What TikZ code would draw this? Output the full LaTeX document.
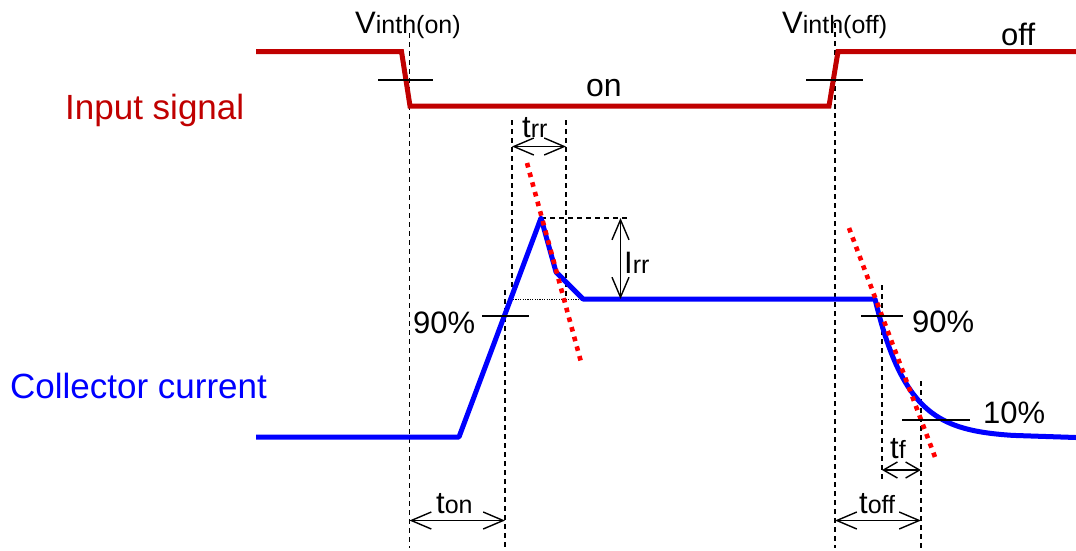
\documentclass[tikz,border=0pt]{standalone}
\usepackage{fontspec}
\setmainfont{Liberation Sans}
\usetikzlibrary{arrows.meta}
\definecolor{sigred}{HTML}{C00000}
\definecolor{curblue}{HTML}{0000FF}
\definecolor{tanred}{HTML}{FF0000}
\newcommand{\bigf}{\fontsize{31}{37}\selectfont}
\newcommand{\subf}{\fontsize{25}{30}\selectfont}
\tikzset{
  guide/.style={draw=black, line width=1.3pt, dash pattern=on 5pt off 4pt},
  dotguide/.style={draw=black, line width=1pt, dash pattern=on 1.2pt off 1.2pt},
  tick/.style={draw=black, line width=1.8pt},
  sigline/.style={draw=sigred, line width=5pt, line join=miter},
  curline/.style={draw=curblue, line width=5pt, line join=round},
  tangent/.style={draw=tanred, line width=4.6pt, dash pattern=on 4.6pt off 5.4pt},
  dimarrow/.style={draw=black, line width=1.4pt, {Straight Barb[length=20pt,width=17pt,line width=1.4pt]}-{Straight Barb[length=20pt,width=17pt,line width=1.4pt]}},
  smallarrow/.style={draw=black, line width=1.4pt, {Straight Barb[length=14pt,width=16pt,line width=1.4pt]}-{Straight Barb[length=14pt,width=16pt,line width=1.4pt]}},
  lbl/.style={inner sep=0pt, anchor=base west},
}
\begin{document}
\begin{tikzpicture}[x=1pt, y=-1pt]
\useasboundingbox (0,0) rectangle (1076,550);
\fill[white] (0,0) rectangle (1076,550);

% ---- key coordinates ----
% input signal
\coordinate (s0) at (256,51.5);
\coordinate (s1) at (401.5,51.5);
\coordinate (s2) at (410,106);
\coordinate (s3) at (829,106);
\coordinate (s4) at (838,51.5);
\coordinate (s5) at (1076,51.5);
% collector current
\coordinate (c0) at (256,437);
\coordinate (c1) at (459,437);
\coordinate (cpk) at (541,218);
\coordinate (c2) at (556,272);
\coordinate (c3) at (583,299);
\coordinate (c4) at (875,299);
\coordinate (c6) at (1076,437.5);

% ---- dashed guide lines ----
\coordinate (gon1) at (409.5,33);   \coordinate (gon2) at (409.5,548);
\coordinate (goff1) at (835,23);    \coordinate (goff2) at (835,548);
\coordinate (gtr1) at (512,120);    \coordinate (gtr2) at (512,299);
\coordinate (gtr3) at (566,120);    \coordinate (gtr4) at (566,299);
\coordinate (g90a) at (505,290);    \coordinate (g90b) at (505,548);
\coordinate (gtf1) at (882,285);    \coordinate (gtf2) at (882,481);
\coordinate (g10a) at (921,381);    \coordinate (g10b) at (921,548);
\coordinate (gpk2) at (630,218);
\coordinate (gdt1) at (513,299);

\draw[guide] (gon1) -- (gon2);
\draw[guide] (goff1) -- (goff2);
\draw[guide] (gtr1) -- (gtr2);
\draw[guide] (gtr3) -- (gtr4);
\draw[guide] (g90a) -- (g90b);
\draw[guide] (gtf1) -- (gtf2);
\draw[guide] (g10a) -- (g10b);
\draw[guide] (cpk) -- (gpk2);
\draw[dotguide] (gdt1) -- (c3);

% ---- waveforms ----
\draw[sigline] (s0) -- (s1) -- (s2) -- (s3) -- (s4) -- (s5);
\draw[curline] (c0) -- (c1) -- (cpk) -- (c2) -- (c3) -- (c4)
  -- plot[domain=875:1013, samples=60] (\x, {437.5-138.5*exp(-(\x-875)/33)})
  -- (c6);

% ---- tangent (red dotted) lines ----
\coordinate (t1a) at (527,163); \coordinate (t1b) at (581,362);
\coordinate (t2a) at (849,228); \coordinate (t2b) at (935,457);
\draw[tangent] (t1a) -- (t1b);
\draw[tangent] (t2a) -- (t2b);

% ---- threshold ticks ----
\coordinate (k1a) at (378,80);  \coordinate (k1b) at (433,80);
\coordinate (k2a) at (806,80);  \coordinate (k2b) at (863,80);
\coordinate (k3a) at (482,315.7); \coordinate (k3b) at (529,315.7);
\coordinate (k4a) at (861,315.7); \coordinate (k4b) at (903,315.7);
\coordinate (k5a) at (902,420);   \coordinate (k5b) at (970,420);
\draw[tick] (k1a) -- (k1b);
\draw[tick] (k2a) -- (k2b);
\draw[tick] (k3a) -- (k3b);
\draw[tick] (k4a) -- (k4b);
\draw[tick] (k5a) -- (k5b);

% ---- dimension arrows ----
\coordinate (atr1) at (512,146.5); \coordinate (atr2) at (566,146.5);
\coordinate (air1) at (620.5,218); \coordinate (air2) at (620.5,299);
\coordinate (aon1) at (409.5,520.5); \coordinate (aon2) at (505,520.5);
\coordinate (aof1) at (835,520.5); \coordinate (aof2) at (921,520.5);
\coordinate (atf1) at (882,470); \coordinate (atf2) at (921,470);
\draw[dimarrow] (atr1) -- (atr2);
\draw[dimarrow] (air1) -- (air2);
\draw[dimarrow] (aon1) -- (aon2);
\draw[dimarrow] (aof1) -- (aof2);
\draw[smallarrow] (atf1) -- (atf2);

% ---- labels ----
\node[lbl, text=sigred] (linput) at (65,119) {\fontsize{35}{42}\selectfont Input signal};
\node[lbl, text=curblue] (lcoll) at (10,398) {\fontsize{35}{42}\selectfont Collector current};
\node[lbl] (lvon) at (355,33) {\bigf V\subf inth(on)};
\node[lbl] (lvoff) at (782,33) {\bigf V\subf inth(off)};
\node[lbl] (loff) at (1001,45) {\bigf off};
\node[lbl] (lon) at (586,96) {\fontsize{32}{38}\selectfont on};
\node[lbl] (ltrr) at (522,137) {\bigf t\subf rr};
\node[lbl] (lirr) at (624,273) {\bigf I\subf rr};
\node[lbl] (l90a) at (413,333) {\bigf 90\%};
\node[lbl] (l90b) at (912,332) {\bigf 90\%};
\node[lbl] (l10) at (983,423) {\bigf 10\%};
\node[lbl] (ltf) at (890,458) {\bigf t\subf f};
\node[lbl] (lton) at (436,513) {\bigf t\subf on};
\node[lbl] (ltoff) at (859,513) {\bigf t\subf off};
\end{tikzpicture}
\end{document}
